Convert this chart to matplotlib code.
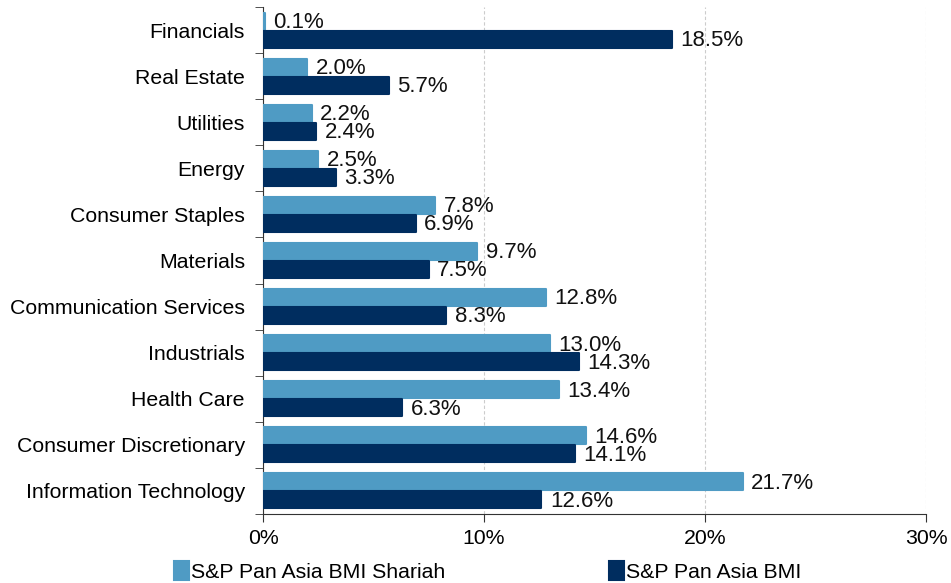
import matplotlib.pyplot as plt
import numpy as np

plt.rcParams['font.family'] = ['Liberation Sans', 'DejaVu Sans']

sectors = ["Financials", "Real Estate", "Utilities", "Energy", "Consumer Staples",
           "Materials", "Communication Services", "Industrials", "Health Care",
           "Consumer Discretionary", "Information Technology"]
shariah = [0.1, 2.0, 2.2, 2.5, 7.8, 9.7, 12.8, 13.0, 13.4, 14.6, 21.7]
bmi = [18.5, 5.7, 2.4, 3.3, 6.9, 7.5, 8.3, 14.3, 6.3, 14.1, 12.6]
series_names = ["S&P Pan Asia BMI Shariah", "S&P Pan Asia BMI"]

light = "#4F9BC4"
dark = "#002D5F"
fs = 15.3

fig = plt.figure(figsize=(9.51, 5.83), dpi=100)
ax = fig.add_axes([0.2766, 0.1184, 0.9737 - 0.2766, 0.988 - 0.1184])

y = np.arange(len(sectors))
h = 0.37
gap = 0.02
b1 = ax.barh(y - h / 2 - gap / 2, shariah, height=h, color=light, edgecolor=light,
             linewidth=1.5, joinstyle='round', label=series_names[0], zorder=3)
b2 = ax.barh(y + h / 2 + gap / 2, bmi, height=h, color=dark, edgecolor=dark,
             linewidth=1.5, joinstyle='round', label=series_names[1], zorder=3)

for bars, vals in ((b1, shariah), (b2, bmi)):
    for bar, v in zip(bars, vals):
        ax.annotate(f"{v:.1f}%", (v, bar.get_y() + bar.get_height() / 2),
                    xytext=(6, -1), textcoords="offset points",
                    ha="left", va="center", fontsize=fs + 0.7, color="#111111", zorder=4)

ax.set_ylim(len(sectors) - 0.5, -0.5)
ax.set_xlim(0, 30)
ax.set_xticks([0, 10, 20, 30])
ax.set_xticklabels(["0%", "10%", "20%", "30%"], fontsize=fs)
ax.set_yticks(y)
ax.set_yticklabels(sectors, fontsize=fs)
ax.tick_params(axis='y', length=0, pad=13)
ax.set_yticks(np.arange(-0.5, len(sectors), 1), minor=True)
ax.tick_params(axis='y', which='minor', length=6, color="#333333")
ax.tick_params(axis='x', length=6, color="#333333", pad=5)

ax.xaxis.grid(True, linestyle=(0, (3, 2)), color="#cccccc", linewidth=0.8, zorder=0)
ax.set_axisbelow(True)
for s in ("top", "right"):
    ax.spines[s].set_visible(False)
ax.spines["left"].set_color("#333333")
ax.spines["bottom"].set_color("#333333")

fig.legend(handles=[b1, b2], labels=series_names, loc="center",
           bbox_to_anchor=(0.513, 0.02), ncol=2, frameon=False, fontsize=fs,
           handlelength=0.7, handleheight=1.0, handletextpad=0.1,
           columnspacing=7.7, borderpad=0)

fig.savefig("out.png", dpi=100)
